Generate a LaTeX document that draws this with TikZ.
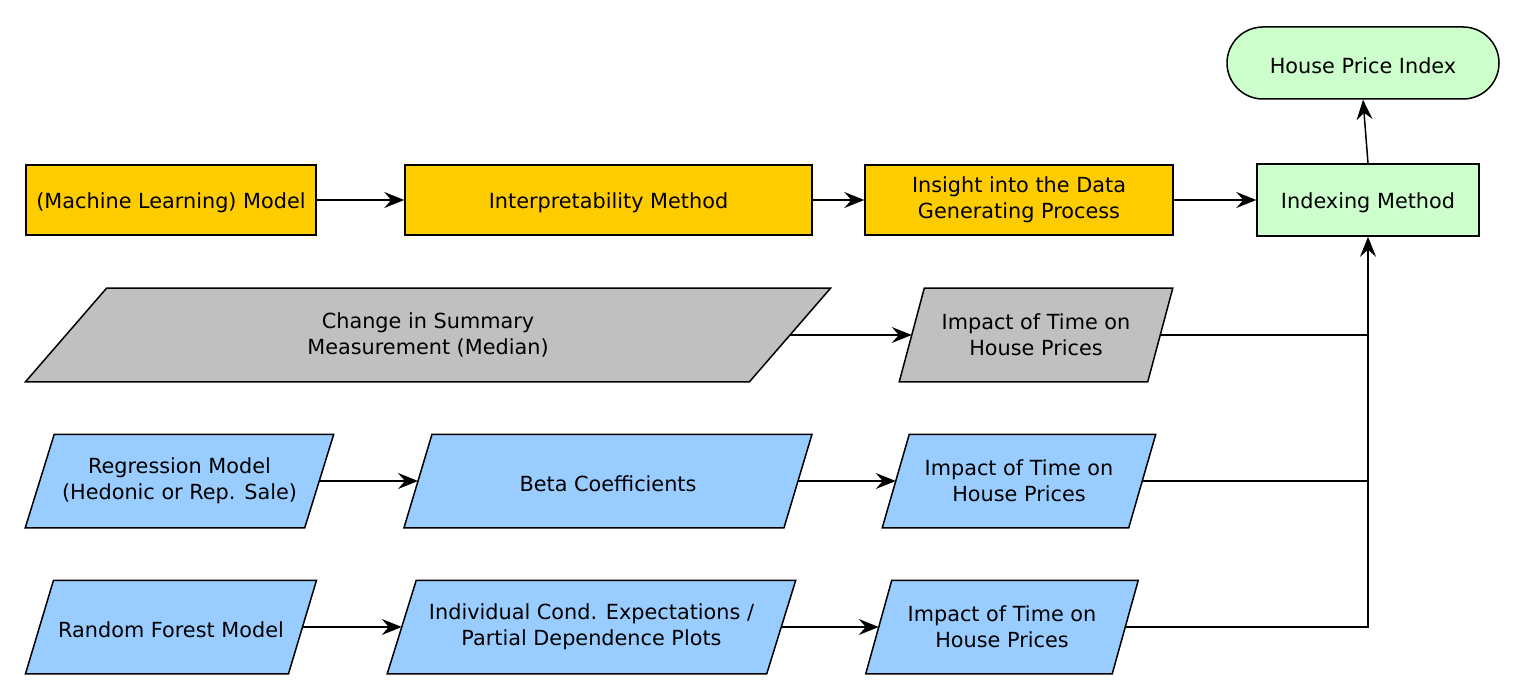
\documentclass[tikz,border=0pt]{standalone}
\usepackage{fontspec}
\setmainfont{DejaVu Sans}
\usetikzlibrary{arrows.meta,backgrounds,calc}
\definecolor{orangefill}{HTML}{FFCC00}
\definecolor{grayfill}{HTML}{C0C0C0}
\definecolor{bluefill}{HTML}{99CCFF}
\definecolor{greenfill}{HTML}{CCFFCC}
\tikzset{
  base/.style={font=\fontsize{20.8}{26}\selectfont, align=center, inner sep=0pt, line width=1.5pt,
    execute at begin node={\rule{0pt}{21.5pt}}},
  rectbox/.style={base, draw, minimum height=70pt},
  parabox/.style={base, minimum height=92pt},
  arr/.style={line width=1.5pt, -{Stealth[length=20pt,width=16pt,inset=7pt]}},
  conn/.style={line width=1.5pt},
}
\newcommand\drawpara[3]{%
  \path[draw=black,fill=#3,line width=1.5pt]
    ([xshift=#2pt/2]#1.north west) -- ([xshift=#2pt/2]#1.north east) --
    ([xshift=-#2pt/2]#1.south east) -- ([xshift=-#2pt/2]#1.south west) -- cycle;}
\begin{document}
\begin{tikzpicture}[x=1pt,y=-1pt]
\useasboundingbox (0,0) rectangle (1525,700);
% top
\node[base, draw, fill=greenfill, rounded corners=36pt, minimum width=272pt, minimum height=72pt] (hpi) at (1363,63) {House Price Index};
\node[rectbox, fill=greenfill, minimum width=222pt, minimum height=72pt] (idx) at (1368,200) {Indexing Method};
% row 1
\node[rectbox, fill=orangefill, minimum width=290pt] (ml) at (171,200) {(Machine Learning) Model};
\node[rectbox, fill=orangefill, minimum width=407pt] (interp) at (608.5,200) {Interpretability Method};
\node[rectbox, fill=orangefill, minimum width=308pt] (ins) at (1019,200) {Insight into the Data\\Generating Process};
% row 2
\node[parabox, minimum width=722.5pt] (chg) at (428,335) {Change in Summary\\Measurement (Median)};
\node[parabox, minimum width=247pt] (imp2) at (1036,335) {Impact of Time on\\House Prices};
% row 3
\node[parabox, minimum width=278pt] (reg) at (179.5,481) {Regression Model\\(Hedonic or Rep. Sale)};
\node[parabox, minimum width=378.5pt] (beta) at (608,481) {Beta Coefficients};
\node[parabox, minimum width=245pt] (imp3) at (1019,481) {Impact of Time on\\House Prices};
% row 4
\node[parabox, minimum width=261.5pt] (rf) at (171,627) {Random Forest Model};
\node[parabox, minimum width=378pt] (ice) at (591.5,627) {Individual Cond. Expectations /\\Partial Dependence Plots};
\node[parabox, minimum width=245pt] (imp4) at (1002,627) {Impact of Time on\\House Prices};
\begin{pgfonlayer}{background}
\drawpara{chg}{81}{grayfill}
\drawpara{imp2}{25}{grayfill}
\drawpara{reg}{29}{bluefill}
\drawpara{beta}{28}{bluefill}
\drawpara{imp3}{27}{bluefill}
\drawpara{rf}{28}{bluefill}
\drawpara{ice}{29}{bluefill}
\drawpara{imp4}{26}{bluefill}
\end{pgfonlayer}
% connectors
\draw[arr] (idx.north) -- (hpi.south);
\draw[arr] (ml) -- (interp);
\draw[arr] (interp) -- (ins);
\draw[arr] (ins) -- (idx);
\draw[arr] (chg.east) -- (imp2.west);
\draw[arr] (reg.east) -- (beta.west);
\draw[arr] (beta.east) -- (imp3.west);
\draw[arr] (rf.east) -- (ice.west);
\draw[arr] (ice.east) -- (imp4.west);
\draw[conn] (imp2.east) -- (imp2.east -| idx.south);
\draw[conn] (imp3.east) -- (imp3.east -| idx.south);
\draw[arr] (imp4.east) -| (idx.south);
\end{tikzpicture}
\end{document}
